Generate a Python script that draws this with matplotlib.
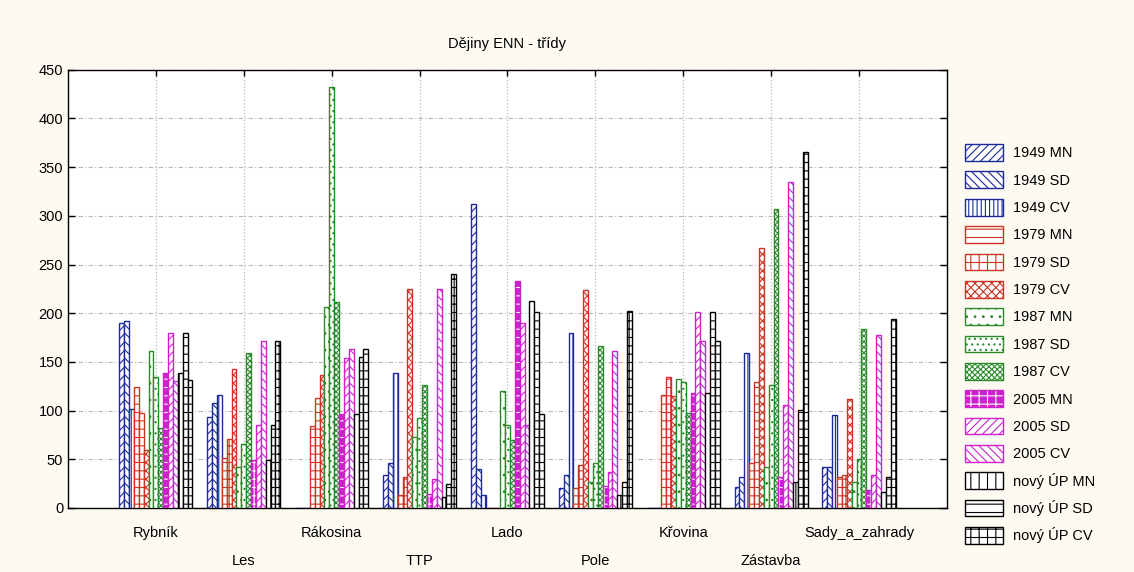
import numpy as np
import matplotlib.pyplot as plt
from matplotlib.patches import Patch
from matplotlib.legend_handler import HandlerTuple

plt.rcParams['font.family'] = ['Liberation Sans', 'DejaVu Sans']
plt.rcParams['hatch.linewidth'] = 0.8

categories = ['Rybník', 'Les', 'Rákosina', 'TTP', 'Lado', 'Pole', 'Křovina', 'Zástavba', 'Sady_a_zahrady']

series_names = ['1949 MN', '1949 SD', '1949 CV',
                '1979 MN', '1979 SD', '1979 CV',
                '1987 MN', '1987 SD', '1987 CV',
                '2005 MN', '2005 SD', '2005 CV',
                'nový ÚP MN', 'nový ÚP SD', 'nový ÚP CV']

y1949_mn = [190, 93, 0, 34, 312, 20, 0, 21, 42]
y1949_sd = [192, 108, 0, 46, 40, 34, 0, 32, 42]
y1949_cv = [102, 116, 0, 139, 13, 180, 0, 159, 95]
y1979_mn = [124, 51, 84, 13, 0, 20, 116, 46, 32]
y1979_sd = [98, 71, 113, 32, 0, 44, 134, 129, 34]
y1979_cv = [60, 143, 137, 225, 0, 224, 115, 267, 112]
y1987_mn = [161, 42, 206, 73, 120, 27, 132, 42, 27]
y1987_sd = [134, 66, 432, 92, 85, 46, 129, 126, 50]
y1987_cv = [82, 159, 211, 126, 70, 166, 98, 307, 184]
y2005_mn = [139, 49, 96, 14, 233, 23, 118, 32, 18]
y2005_sd = [180, 85, 154, 30, 190, 37, 201, 106, 34]
y2005_cv = [130, 171, 163, 225, 85, 161, 171, 335, 178]
novy_mn = [139, 49, 96, 11, 213, 13, 118, 27, 16]
novy_sd = [180, 85, 155, 25, 201, 27, 201, 101, 32]
novy_cv = [131, 171, 163, 240, 96, 202, 171, 366, 194]

data = [y1949_mn, y1949_sd, y1949_cv, y1979_mn, y1979_sd, y1979_cv,
        y1987_mn, y1987_sd, y1987_cv, y2005_mn, y2005_sd, y2005_cv,
        novy_mn, novy_sd, novy_cv]

blue = '#1c2a9c'
red = '#cc3322'
green = '#2a8a2a'
mag = '#cc22cc'
# (edge colour, face colour, hatch)
styles = [(blue, 'white', '////'), (blue, 'white', '\\\\\\\\'), (blue, 'white', '||||'),
          (red, 'white', '--'), (red, 'white', '++'), (red, 'white', 'xxxx'),
          (green, 'white', '..'), (green, 'white', '...'), (green, 'white', 'xxxxxx'),
          (mag, mag, '++'), (mag, 'white', '////'), (mag, 'white', '\\\\\\\\'),
          ('black', 'white', '||'), ('black', 'white', '--'), ('black', 'white', '++')]

fig = plt.figure(figsize=(11.34, 5.72), dpi=100, facecolor='#fdfbf1')
ax = fig.add_axes([0.060, 0.112, 0.775, 0.766])

x = np.arange(1, len(categories) + 1)
n = len(data)
w = 0.832 / n
handles = []
for i, (vals, (ec, fc, h)) in enumerate(zip(data, styles)):
    pos = x - 0.416 + w * (i + 0.5)
    if fc != 'white':
        # coloured face with white pattern, outlined in the series colour
        ax.bar(pos, vals, w, color=fc, edgecolor='white', hatch=h, linewidth=0, zorder=3)
        ax.bar(pos, vals, w, fill=False, edgecolor=ec, linewidth=1, zorder=3)
        handles.append((Patch(facecolor=fc, edgecolor='white', hatch=h, linewidth=0),
                        Patch(fill=False, edgecolor=ec, linewidth=1)))
    else:
        ax.bar(pos, vals, w, color=fc, edgecolor=ec, hatch=h, linewidth=1, zorder=3)
        handles.append(Patch(facecolor=fc, edgecolor=ec, hatch=h, linewidth=1))

ax.set_xlim(0, 10)
ax.set_ylim(0, 450)
ax.set_yticks(np.arange(0, 451, 50))
ax.set_xticks(x)
ax.set_xticklabels(categories)
ax.tick_params(direction='in', top=True, right=True, length=5, labelsize=10.5, width=1)
ax.tick_params(axis='x', length=4)
for i, t in enumerate(ax.xaxis.get_major_ticks()):
    t.set_pad(13 if i % 2 == 0 else 33)

ax.grid(axis='y', color='#b8b8b8', linestyle=(0, (4, 2, 1, 2)), linewidth=0.8, zorder=0)
ax.grid(axis='x', color='#b8b8b8', linestyle=':', linewidth=0.9, zorder=0)
for s in ax.spines.values():
    s.set_linewidth(1)

ax.set_title('Dějiny ENN - třídy', fontsize=10.5, pad=16)

fig.legend(handles, series_names, loc='upper left', bbox_to_anchor=(0.851, 0.748),
           frameon=False, fontsize=10.5, handlelength=2.6, handleheight=1.4,
           labelspacing=0.72, handletextpad=0.7, borderpad=0, borderaxespad=0,
           handler_map={tuple: HandlerTuple(ndivide=1, pad=0)})

fig.savefig('out.png', dpi=100, facecolor=fig.get_facecolor())
